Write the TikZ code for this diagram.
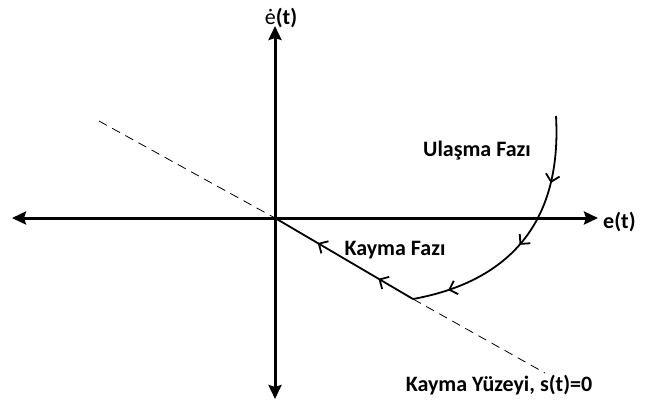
\documentclass[tikz,border=0pt]{standalone}
\usepackage{fontspec}
\setmainfont{Carlito}
\usetikzlibrary{arrows.meta,decorations.markings}
\tikzset{
  axis/.style={line width=3pt,-{Stealth[length=14pt,width=13pt,inset=2pt]}},
  traj/.style={line width=1.8pt},
  chev/.style={decoration={markings,#1},postaction={decorate}},
  lbl/.style={font=\fontsize{22}{24}\selectfont\bfseries,inner sep=0pt},
  surf/.style={line width=0.8pt,dash pattern=on 9pt off 6pt}
}
\newcommand{\chv}{\arrow{Straight Barb[length=7pt,width=14pt,line width=1.8pt]}}
\begin{document}
\begin{tikzpicture}[x=1pt,y=-1pt]
\useasboundingbox (0,0) rectangle (655,407);
\coordinate (O) at (275,218);
\coordinate (L) at (12,218);
\coordinate (R) at (598,218);
\coordinate (T) at (275,26);
\coordinate (B) at (275,399);
\coordinate (DS) at (99,121);
\coordinate (DE) at (545,373);
\coordinate (S) at (556,116);
\coordinate (C) at (413,299);
\draw[surf] (DS) -- (O);
\draw[surf] (C) -- (DE);
\draw[axis] (O) -- (L);
\draw[axis] (O) -- (R);
\draw[axis] (O) -- (T);
\draw[axis] (O) -- (B);
\draw[traj,chev={mark=at position 0.26 with {\chv},mark=at position 0.53 with {\chv},mark=at position 0.86 with {\chv}}]
  (S) .. controls (563,240) and (490,285) .. (C);
\draw[traj,chev={mark=at position 0.25 with {\chv},mark=at position 0.69 with {\chv}}]
  (C) -- (O);
\node[lbl,anchor=west] (et) at (603,222) {e(t)};
\node[lbl,anchor=center] (edt) at (281,18) {{\mdseries ė}(t)};
\node[lbl] (ul) at (477,151) {Ulaşma Fazı};
\node[lbl] (kf) at (395,250) {Kayma Fazı};
\node[lbl] (ky) at (499,385) {Kayma Yüzeyi, s(t)=0};
\end{tikzpicture}
\end{document}
